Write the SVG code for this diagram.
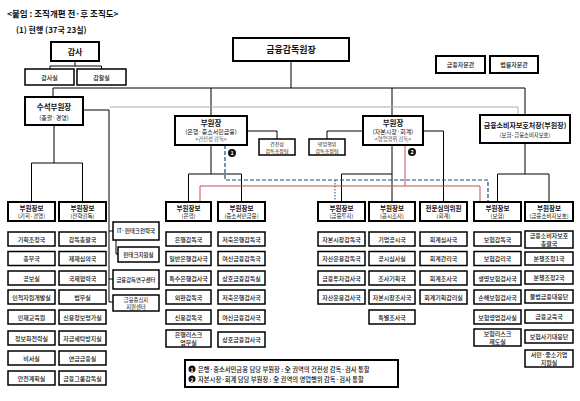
<svg xmlns="http://www.w3.org/2000/svg" width="580" height="401" viewBox="0 0 580 401">
<style>
text{font-family:"Noto Sans CJK KR","Noto Sans",sans-serif;fill:#111;text-anchor:middle;dominant-baseline:central}
.b{fill:#fff;stroke:#000;stroke-width:1.5}
.h{fill:#fff;stroke:#000;stroke-width:2}
.t{font-size:6px;font-weight:500}
.hb{font-size:6.5px;font-weight:bold}
.hs{font-size:5.5px}
.ln{fill:none;stroke:#000;stroke-width:1}
.gr{fill:none;stroke:#aaa;stroke-width:1}
.bl{fill:none;stroke:#1f4a78;stroke-width:1.2;stroke-dasharray:4 2}
.bd{fill:none;stroke:#1f4a78;stroke-width:1;stroke-dasharray:1.5 1.5}
.rd{fill:none;stroke:#c0505a;stroke-width:1}
</style>
<rect width="580" height="401" fill="#fff"/>
<text x="7" y="13" style="font-size:8.5px;font-weight:bold;text-anchor:start">&lt;붙임 : 조직개편 전·후 조직도&gt;</text>
<text x="16" y="29" style="font-size:8px;font-weight:bold;text-anchor:start">(1) 현행 (37국 23실)</text>

<g id="connectors">
<path class="ln" d="M75 61V66M50 69V66H101.5V69"/>
<path class="ln" d="M291 61V88M53 97V88H525V115M211 88V116M392 88V116"/>
<path class="ln" d="M83 110H109V302M109 231H113M109 279H113M109 302H113M116 240V254H118"/>
<path class="ln" d="M54 125V163M31.5 202V163H82.5V202"/>
<path class="gr" d="M110 107H518V115"/>
<path class="ln" d="M247 131H277V139M363 131H327V139"/>
<path class="ln" d="M211 145V174M188.5 202V174H241.5V202"/>
<path class="ln" d="M392 145V202M341.5 202V174H392"/>
<path class="ln" d="M423 131H443.5V202"/>
<path class="ln" d="M525 143V174M497.5 202V174H549V202"/>
<path class="bl" d="M225 145V180H488V202"/>
<path class="bd" d="M335 180V202"/>
<path class="rd" d="M405 145V186M200 202V186H480V202"/>
</g>

<g id="n-gamsa"><rect class="h" x="51" y="42" width="48" height="19"/><text x="75" y="51.5" style="font-size:8px;font-weight:bold">감사</text></g>
<g id="n-gamsasil"><rect class="b" x="25" y="69" width="49" height="16"/><text class="t" x="49.5" y="77">감사실</text></g>
<g id="n-gamchalsil"><rect class="b" x="77" y="69" width="49" height="16"/><text class="t" x="101.5" y="77">감찰실</text></g>
<g id="n-governor"><rect class="h" x="233" y="38" width="116" height="23"/><text x="291" y="49.5" style="font-size:9px;font-weight:bold">금융감독원장</text></g>
<g id="n-adv1"><rect class="h" x="436" y="56" width="49" height="17"/><text class="t" x="460.5" y="64.5">금융자문관</text></g>
<g id="n-adv2"><rect class="h" x="490" y="56" width="48" height="17"/><text class="t" x="514" y="64.5">법률자문관</text></g>

<g id="n-senior"><rect class="h" x="25" y="97" width="58" height="28"/><text x="54" y="106" style="font-size:7.5px;font-weight:bold">수석부원장</text><text x="54" y="117" style="font-size:6px">(총괄·경영)</text></g>
<g id="n-dep1"><rect class="h" x="175" y="116" width="72" height="29"/><text x="211" y="122.5" style="font-size:7.5px;font-weight:bold">부원장</text><text x="211" y="131.5" style="font-size:6px">(은행·중소서민금융)</text><text x="211" y="139" style="font-size:5.3px;fill:#555">&lt;건전성 감독&gt;</text></g>
<g id="n-dep2"><rect class="h" x="363" y="116" width="60" height="29"/><text x="393" y="122.5" style="font-size:7.5px;font-weight:bold">부원장</text><text x="393" y="131.5" style="font-size:6px">(자본시장·회계)</text><text x="393" y="139" style="font-size:5.3px;fill:#555">&lt;영업행위 감독&gt;</text></g>
<g id="n-cpo"><rect class="h" x="480" y="115" width="90" height="28"/><text x="525" y="125" style="font-size:7px;font-weight:bold">금융소비자보호처장(부원장)</text><text x="525" y="135" style="font-size:5.3px">(보험·금융소비자보호)</text></g>
<g id="n-team1"><rect class="b" x="259" y="139" width="36" height="16"/><text x="277" y="143.5" style="font-size:5px">건전성</text><text x="277" y="150.5" style="font-size:5px">감독조정팀</text></g>
<g id="n-team2"><rect class="b" x="309" y="139" width="36" height="16"/><text x="327" y="143.5" style="font-size:5px">영업행위</text><text x="327" y="150.5" style="font-size:5px">감독조정팀</text></g>
<g id="n-m1"><circle cx="232" cy="153" r="4" fill="#111"/><text x="232" y="153.3" style="font-size:5.5px;font-weight:bold;fill:#fff">1</text></g>
<g id="n-m2"><circle cx="412" cy="152" r="4" fill="#111"/><text x="412" y="152.3" style="font-size:5.5px;font-weight:bold;fill:#fff">2</text></g>

<g id="n-it"><rect class="b" x="113" y="222" width="46" height="18"/><text class="t" x="136" y="231" style="font-size:5.5px">IT·핀테크전략국</text></g>
<g id="n-fintech"><rect class="b" x="118" y="247" width="41" height="15"/><text class="t" x="138.5" y="254.5" style="font-size:5.5px">핀테크지원실</text></g>
<g id="n-research"><rect class="b" x="113" y="270" width="46" height="19"/><text class="t" x="136" y="279.5" style="font-size:5.3px">금융감독연구센터</text></g>
<g id="n-hub"><rect class="b" x="113" y="295" width="46" height="16"/><text x="136" y="299.5" style="font-size:5.3px">금융중심지</text><text x="136" y="306.5" style="font-size:5.3px">지원센터</text></g>

<g id="n-h1"><rect class="h" x="8" y="202" width="47" height="19"/><text class="hb" x="31.5" y="208">부원장보</text><text class="hs" x="31.5" y="216">(기획·경영)</text></g>
<g id="n-h2"><rect class="h" x="59" y="202" width="47" height="19"/><text class="hb" x="82.5" y="208">부원장보</text><text class="hs" x="82.5" y="216">(전략감독)</text></g>
<g id="n-h3"><rect class="h" x="166" y="202" width="45" height="19"/><text class="hb" x="188.5" y="208">부원장보</text><text class="hs" x="188.5" y="216">(은행)</text></g>
<g id="n-h4"><rect class="h" x="218" y="202" width="47" height="19"/><text class="hb" x="241.5" y="208">부원장보</text><text class="hs" x="241.5" y="216">(중소서민금융)</text></g>
<g id="n-h5"><rect class="h" x="318" y="202" width="47" height="19"/><text class="hb" x="341.5" y="208">부원장보</text><text class="hs" x="341.5" y="216">(금융투자)</text></g>
<g id="n-h6"><rect class="h" x="369" y="202" width="46" height="19"/><text class="hb" x="392" y="208">부원장보</text><text class="hs" x="392" y="216">(공시조사)</text></g>
<g id="n-h7"><rect class="h" x="420" y="202" width="47" height="19"/><text class="hb" x="443.5" y="208">전문심의위원</text><text class="hs" x="443.5" y="216">(회계)</text></g>
<g id="n-h8"><rect class="h" x="474" y="202" width="47" height="19"/><text class="hb" x="497.5" y="208">부원장보</text><text class="hs" x="497.5" y="216">(보험)</text></g>
<g id="n-h9"><rect class="h" x="525" y="202" width="48" height="19"/><text class="hb" x="549" y="208">부원장보</text><text class="hs" x="549" y="216">(금융소비자보호)</text></g>

<g id="col1">
<g id="c1-1"><rect class="b" x="8" y="232" width="47" height="14"/><text class="t" x="31.5" y="239">기획조정국</text></g>
<g id="c1-2"><rect class="b" x="8" y="251.5" width="47" height="14"/><text class="t" x="31.5" y="258.5">총무국</text></g>
<g id="c1-3"><rect class="b" x="8" y="271" width="47" height="14"/><text class="t" x="31.5" y="278">공보실</text></g>
<g id="c1-4"><rect class="b" x="8" y="290" width="47" height="14"/><text class="t" x="31.5" y="297">인적자원개발실</text></g>
<g id="c1-5"><rect class="b" x="8" y="310" width="47" height="14"/><text class="t" x="31.5" y="317">인재교육원</text></g>
<g id="c1-6"><rect class="b" x="8" y="331" width="47" height="14"/><text class="t" x="31.5" y="338">정보화전략실</text></g>
<g id="c1-7"><rect class="b" x="8" y="351" width="47" height="14"/><text class="t" x="31.5" y="358">비서실</text></g>
<g id="c1-8"><rect class="b" x="8" y="371" width="47" height="14"/><text class="t" x="31.5" y="378">안전계획실</text></g>
</g>
<g id="col2">
<g id="c2-1"><rect class="b" x="59" y="232" width="47" height="14"/><text class="t" x="82.5" y="239">감독총괄국</text></g>
<g id="c2-2"><rect class="b" x="59" y="251.5" width="47" height="14"/><text class="t" x="82.5" y="258.5">제재심의국</text></g>
<g id="c2-3"><rect class="b" x="59" y="271" width="47" height="14"/><text class="t" x="82.5" y="278">국제협력국</text></g>
<g id="c2-4"><rect class="b" x="59" y="290" width="47" height="14"/><text class="t" x="82.5" y="297">법무실</text></g>
<g id="c2-5"><rect class="b" x="59" y="310" width="47" height="14"/><text class="t" x="82.5" y="317">신용정보평가실</text></g>
<g id="c2-6"><rect class="b" x="59" y="331" width="47" height="14"/><text class="t" x="82.5" y="338">자금세탁방지실</text></g>
<g id="c2-7"><rect class="b" x="59" y="351" width="47" height="14"/><text class="t" x="82.5" y="358">연금금융실</text></g>
<g id="c2-8"><rect class="b" x="59" y="371" width="47" height="14"/><text class="t" x="82.5" y="378">금융그룹감독실</text></g>
</g>
<g id="col3">
<g id="c3-1"><rect class="b" x="166" y="232" width="45" height="14"/><text class="t" x="188.5" y="239">은행감독국</text></g>
<g id="c3-2"><rect class="b" x="166" y="251.5" width="45" height="14"/><text class="t" x="188.5" y="258.5">일반은행검사국</text></g>
<g id="c3-3"><rect class="b" x="166" y="271" width="45" height="14"/><text class="t" x="188.5" y="278">특수은행검사국</text></g>
<g id="c3-4"><rect class="b" x="166" y="290" width="45" height="14"/><text class="t" x="188.5" y="297">외환감독국</text></g>
<g id="c3-5"><rect class="b" x="166" y="310" width="45" height="14"/><text class="t" x="188.5" y="317">신용감독국</text></g>
<g id="c3-6"><rect class="b" x="166" y="330" width="45" height="17"/><text class="t" x="188.5" y="334.5">은행리스크</text><text class="t" x="188.5" y="342.5">업무실</text></g>
</g>
<g id="col4">
<g id="c4-1"><rect class="b" x="218" y="232" width="47" height="14"/><text class="t" x="241.5" y="239">저축은행감독국</text></g>
<g id="c4-2"><rect class="b" x="218" y="251.5" width="47" height="14"/><text class="t" x="241.5" y="258.5">여신금융감독국</text></g>
<g id="c4-3"><rect class="b" x="218" y="271" width="47" height="14"/><text class="t" x="241.5" y="278">상호금융감독실</text></g>
<g id="c4-4"><rect class="b" x="218" y="290" width="47" height="14"/><text class="t" x="241.5" y="297">저축은행검사국</text></g>
<g id="c4-5"><rect class="b" x="218" y="310" width="47" height="14"/><text class="t" x="241.5" y="317">여신금융검사국</text></g>
<g id="c4-6"><rect class="b" x="218" y="332" width="47" height="15"/><text class="t" x="241.5" y="339.5">상호금융검사국</text></g>
</g>
<g id="col5">
<g id="c5-1"><rect class="b" x="318" y="232" width="47" height="14"/><text class="t" x="341.5" y="239">자본시장감독국</text></g>
<g id="c5-2"><rect class="b" x="318" y="251.5" width="47" height="14"/><text class="t" x="341.5" y="258.5">자산운용감독국</text></g>
<g id="c5-3"><rect class="b" x="318" y="271" width="47" height="14"/><text class="t" x="341.5" y="278">금융투자검사국</text></g>
<g id="c5-4"><rect class="b" x="318" y="290" width="47" height="14"/><text class="t" x="341.5" y="297">자산운용검사국</text></g>
</g>
<g id="col6">
<g id="c6-1"><rect class="b" x="369" y="232" width="46" height="14"/><text class="t" x="392" y="239">기업공시국</text></g>
<g id="c6-2"><rect class="b" x="369" y="251.5" width="46" height="14"/><text class="t" x="392" y="258.5">공시심사실</text></g>
<g id="c6-3"><rect class="b" x="369" y="271" width="46" height="14"/><text class="t" x="392" y="278">조사기획국</text></g>
<g id="c6-4"><rect class="b" x="369" y="290" width="46" height="14"/><text class="t" x="392" y="297">자본시장조사국</text></g>
<g id="c6-5"><rect class="b" x="369" y="310" width="46" height="14"/><text class="t" x="392" y="317">특별조사국</text></g>
</g>
<g id="col7">
<g id="c7-1"><rect class="b" x="420" y="232" width="47" height="14"/><text class="t" x="443.5" y="239">회계심사국</text></g>
<g id="c7-2"><rect class="b" x="420" y="251.5" width="47" height="14"/><text class="t" x="443.5" y="258.5">회계관리국</text></g>
<g id="c7-3"><rect class="b" x="420" y="271" width="47" height="14"/><text class="t" x="443.5" y="278">회계조사국</text></g>
<g id="c7-4"><rect class="b" x="420" y="290" width="47" height="14"/><text class="t" x="443.5" y="297">회계기획감리실</text></g>
</g>
<g id="col8">
<g id="c8-1"><rect class="b" x="474" y="232" width="47" height="14"/><text class="t" x="497.5" y="239">보험감독국</text></g>
<g id="c8-2"><rect class="b" x="474" y="251.5" width="47" height="14"/><text class="t" x="497.5" y="258.5">보험감리국</text></g>
<g id="c8-3"><rect class="b" x="474" y="271" width="47" height="14"/><text class="t" x="497.5" y="278">생명보험검사국</text></g>
<g id="c8-4"><rect class="b" x="474" y="290" width="47" height="14"/><text class="t" x="497.5" y="297">손해보험검사국</text></g>
<g id="c8-5"><rect class="b" x="474" y="310" width="47" height="14"/><text class="t" x="497.5" y="317">보험영업검사실</text></g>
<g id="c8-6"><rect class="b" x="474" y="329" width="47" height="17"/><text class="t" x="497.5" y="333.5">보험리스크</text><text class="t" x="497.5" y="341.5">제도실</text></g>
</g>
<g id="col9">
<g id="c9-1"><rect class="b" x="525" y="231" width="48" height="17"/><text class="t" x="549" y="235.5">금융소비자보호</text><text class="t" x="549" y="243.5">총괄국</text></g>
<g id="c9-2"><rect class="b" x="525" y="252" width="48" height="13"/><text class="t" x="549" y="258.5">분쟁조정1국</text></g>
<g id="c9-3"><rect class="b" x="525" y="271" width="48" height="13"/><text class="t" x="549" y="277.5">분쟁조정2국</text></g>
<g id="c9-4"><rect class="b" x="525" y="290" width="48" height="13"/><text class="t" x="549" y="296.5">불법금융대응단</text></g>
<g id="c9-5"><rect class="b" x="525" y="310" width="48" height="13"/><text class="t" x="549" y="316.5">금융교육국</text></g>
<g id="c9-6"><rect class="b" x="525" y="330" width="48" height="13"/><text class="t" x="549" y="336.5">보험사기대응단</text></g>
<g id="c9-7"><rect class="b" x="525" y="350" width="48" height="17"/><text class="t" x="549" y="354.5">서민·중소기업</text><text class="t" x="549" y="362.5">지원실</text></g>
</g>

<g id="legend">
<rect class="h" x="185" y="360" width="213" height="27"/>
<circle cx="192" cy="369" r="3.5" fill="#111"/><text x="192" y="369.3" style="font-size:5px;font-weight:bold;fill:#fff">1</text>
<text x="198" y="369" style="font-size:6.3px;font-weight:500;text-anchor:start">은행·중소서민금융 담당 부원장 : 全 권역의 건전성 감독·검사 통할</text>
<circle cx="192" cy="379" r="3.5" fill="#111"/><text x="192" y="379.3" style="font-size:5px;font-weight:bold;fill:#fff">2</text>
<text x="198" y="379" style="font-size:6.3px;font-weight:500;text-anchor:start">자본시장·회계 담당 부원장 : 全 권역의 영업행위 감독·검사 통할</text>
</g>
</svg>
